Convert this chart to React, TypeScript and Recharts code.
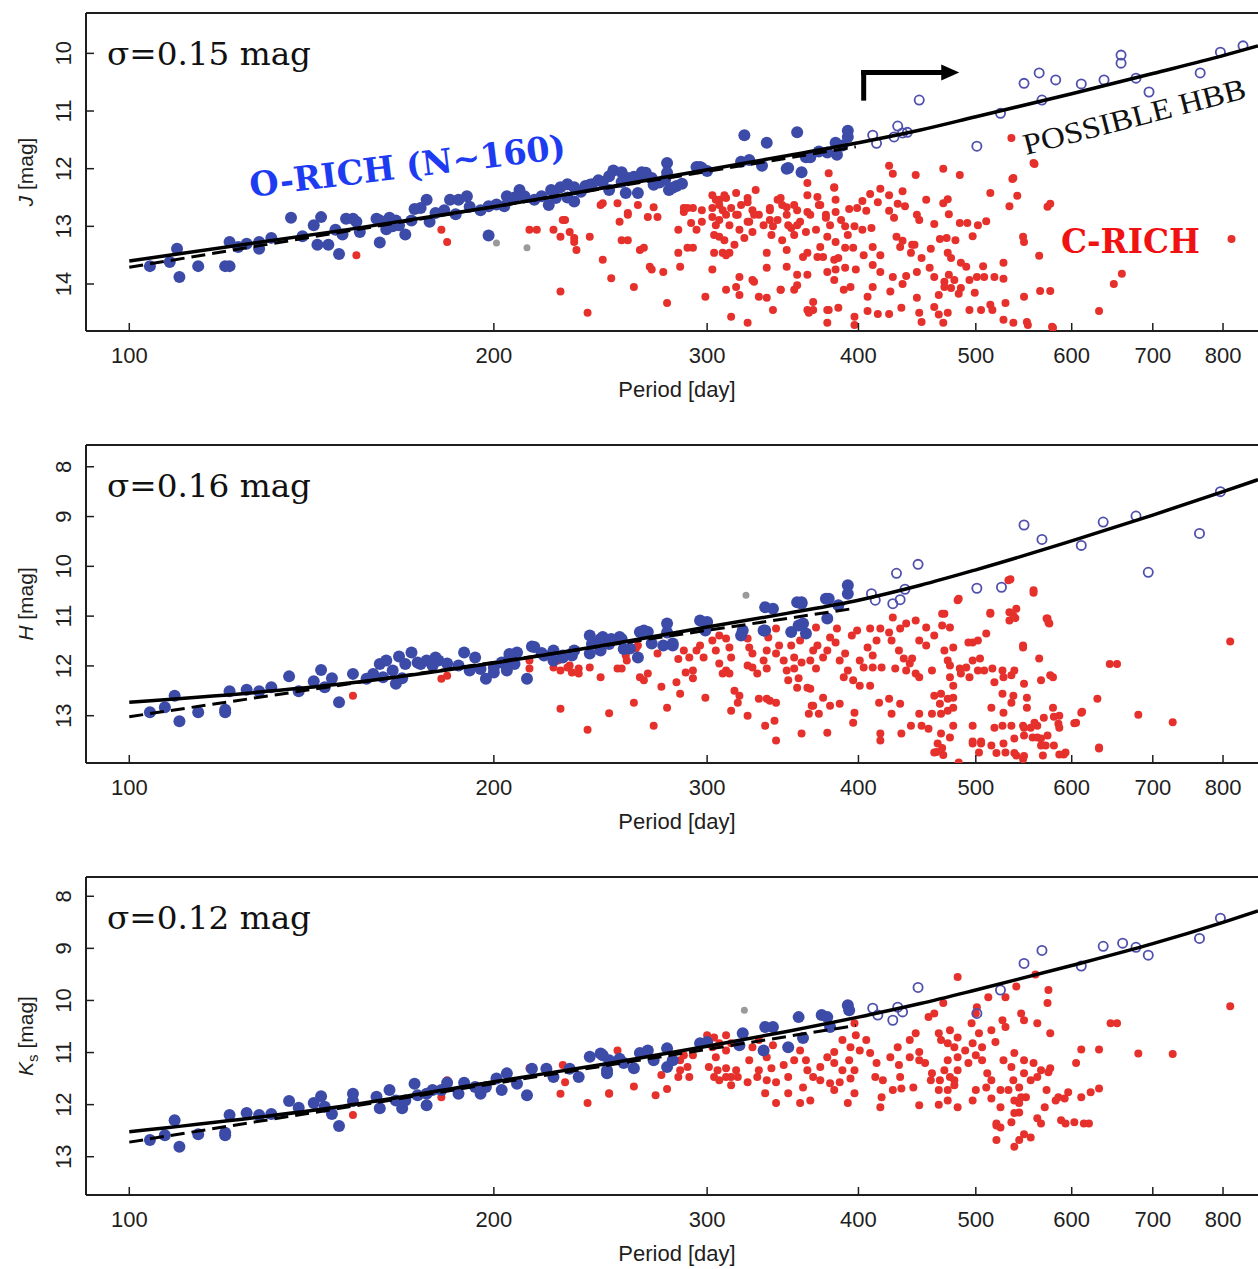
import React from 'react'
import { ScatterChart, Scatter, XAxis, YAxis, ReferenceLine, ReferenceDot } from 'recharts'

type Pt = [number, number]

// period axis (log), shared by the three panels
const periodTicks = [100, 200, 300, 400, 500, 600, 700, 800]
const periodDomain: [number, number] = [92.1, 855]

const jTicks = [10, 11, 12, 13, 14]
const hTicks = [8, 9, 10, 11, 12, 13]
const kTicks = [8, 9, 10, 11, 12, 13]
const jDomain: [number, number] = [9.3, 14.815]
const hDomain: [number, number] = [7.563, 13.95]
const kDomain: [number, number] = [7.63, 13.735]

// ---------- J panel ----------
const jFit: Pt[] = [[100,13.6],[150,13.07],[200,12.66],[250,12.31],[300,12.02],[350,11.77],[400,11.55],[450,11.33],[500,11.1],[600,10.7],[700,10.35],[800,10.04],[855,9.87]]
const jDash: Pt[] = [[100,13.71],[398,11.62]]
const jBlue: Pt[] = [[104,13.69],[108,13.62],[109.5,13.39],[110,13.88],[114,13.69],[120,13.69],[121,13.69],[121,13.27],[123,13.36],[125,13.3],[128,13.27],[128,13.39],[131,13.2],[136,12.85],[139,13.17],[142,12.98],[143,13.32],[144,12.84],[146,13.32],[148,13.06],[149,13.48],[150,13.14],[151,12.87],[153,12.87],[154,12.92],[155,13.1],[160,12.87],[161,12.9],[161,13.28],[163,13.05],[164,12.85],[165,13.0],[166,12.9],[167,12.98],[169,13.14],[171,12.9],[172,12.7],[174,12.68],[176,12.54],[177,12.92],[179,12.77],[182,12.72],[184,12.54],[186,12.79],[187,12.54],[190,12.48],[191,12.66],[195,12.72],[198,12.65],[198,13.16],[201,12.62],[204,12.65],[205,12.48],[206,12.54],[208,12.5],[210,12.37],[212,12.48],[216,12.54],[219,12.48],[222,12.63],[223,12.37],[224,12.4],[225,12.51],[227,12.32],[230,12.5],[230,12.27],[233,12.57],[233,12.32],[236,12.4],[238,12.3],[240,12.28],[241,12.27],[244,12.2],[246,12.23],[249,12.37],[249,12.13],[251,12.03],[255,12.23],[255,12.06],[257,12.42],[258,12.16],[261,12.14],[263,12.42],[264,12.14],[265,12.06],[267,12.07],[268,12.14],[270,12.16],[271,12.28],[274,12.24],[277,12.19],[278,11.9],[278,12.07],[279,12.37],[281,12.33],[283,12.3],[286,12.26],[294,11.97],[296,11.97],[297,11.99],[300,12.04],[320,11.88],[322,11.42],[325,11.85],[333,11.95],[336,11.55],[349,12.0],[350,11.99],[356,11.37],[359,12.06],[362,11.8],[365,11.8],[371,11.7],[377,11.72],[383,11.55],[384,11.76],[388,11.6],[392,11.45],[392,11.34]]
const jOpen: Pt[] = [[411,11.42],[414,11.56],[428,11.45],[431,11.26],[435,11.38],[439,11.37],[449,10.81],[501,11.61],[524,11.04],[548,10.52],[564,10.34],[567,10.81],[582,10.46],[611,10.53],[638,10.46],[659,10.03],[659,10.17],[678,10.43],[695,10.67],[766,10.34],[796,9.98],[831,9.87]]
const jGray: Pt[] = [[201,13.29],[213,13.37]]
const jRed: Pt[] = [[154,13.5],[181,13.06],[183,13.27],[214,13.06],[217,13.06],[224,13.06],[227,14.13],[229,12.89],[233,13.2],[234,13.41],[239,14.5],[240,13.18],[246,13.58],[246,12.6],[250,13.9],[253,12.6],[254,12.92],[258,12.77],[258,13.24],[261,14.05],[264,13.41],[268,12.84],[269,13.7],[271,12.67],[273,12.84],[278,14.33],[284,13.06],[284,13.46],[285,13.7],[287,12.68],[289,13.37],[292,12.68],[299,14.22],[303,13.75],[303,12.68],[307,12.54],[309,13.46],[311,14.1],[314,14.57],[319,13.88],[319,14.19],[324,14.67],[328,13.96],[329,12.37],[331,14.22],[336,13.46],[340,13.0],[343,12.54],[345,14.1],[349,13.7],[356,14.02],[363,12.25],[363,14.45],[367,14.31],[372,13.36],[377,14.67],[378,14.45],[382,13.58],
[305,12.54],[307,12.63],[311,12.51],[314,12.68],[318,12.8],[320,12.63],[324,12.51],[327,12.72],[307,12.89],[313,12.98],[319,13.06],[324,12.92],[304,13.15],[310,13.24],[316,13.32],[322,13.2],[327,13.1],[331,12.8],[334,12.98],[338,12.72],[339,13.15],[343,12.89],[346,12.63],[349,12.8],[352,13.03],[356,12.72],[358,12.92],[362,13.1],[365,12.8],[369,13.06],[372,12.63],[376,12.8],[379,12.98],[383,12.54],[387,12.89],[392,13.15],
[245,12.63],[258,12.8],[263,12.63],[228,12.89],[231,13.1],[227,13.18],[233,13.27],[255,13.24],[266,13.37],[270,13.75],[276,13.79],[287,12.75],[289,12.68],[297,12.72],[291,12.94],[294,13.06],[297,12.92],[292,13.37],[304,13.46],[303,12.46],[310,12.46],[309,12.72],[311,12.8],[303,12.84],[305,12.98],[307,13.18],[311,13.5],[313,13.46],[317,12.8],[317,12.42],[324,12.58],[325,12.92],[328,12.8],[317,14.05],[327,13.93],[336,14.24],[340,14.45],[338,12.68],[338,12.89],[345,12.51],[346,13.24],[349,12.67],[349,13.41],[354,12.63],[350,12.98],[356,12.98],[354,13.15],[336,13.72],[356,13.84],[354,14.1],[345,14.1],[370,12.49],[363,12.46],[371,12.63],[378,12.08],[363,12.75],[376,12.85],[383,12.75],[382,12.33],[363,13.46],[360,13.53],[377,13.18],[374,13.53],[370,13.53],[363,13.84],[377,13.79],[383,13.75],[382,13.93],[367,14.45],[377,14.45],[364,14.5],
[424,11.95],[427,12.09],[446,12.11],[470,12.0],[485,12.11],[382,12.32],[409,12.44],[417,12.35],[424,12.46],[435,12.39],[403,12.56],[415,12.58],[431,12.61],[437,12.65],[455,12.54],[470,12.6],[474,12.53],[393,12.7],[399,12.68],[406,12.73],[424,12.73],[428,12.85],[447,12.8],[449,12.89],[462,12.96],[475,12.79],[485,12.94],[492,12.94],[502,12.98],[510,12.91],[514,12.42],[537,12.16],[533,12.65],[541,12.47],[558,11.9],[573,12.66],[576,12.61],[390,13.0],[397,13.0],[403,13.06],[410,13.03],[430,13.18],[435,13.25],[443,13.32],[467,13.22],[473,13.2],[481,13.24],[497,13.17],[459,13.39],[547,13.18],[548,13.27],[383,13.27],[390,13.37],[396,13.37],[404,13.5],[411,13.36],[417,13.5],[433,13.36],[442,13.46],[445,13.32],[451,13.55],[474,13.46],[477,13.55],[486,13.63],[491,13.7],[507,13.69],[527,13.63],[564,13.51],[385,13.55],[390,13.72],[398,13.75],[411,13.67],[417,13.79],[427,13.88],[438,13.86],[447,13.79],[458,13.72],[462,13.88],[471,13.96],[475,13.84],[480,13.93],[486,14.07],[494,13.93],[501,13.88],[508,13.88],[518,13.88],[527,13.91],[565,14.12],[576,14.12],[389,14.1],[394,14.05],[407,14.22],[411,14.05],[425,14.13],[435,14.0],[447,14.24],[466,14.19],[471,14.05],[477,14.07],[484,14.17],[499,14.15],[514,14.36],[529,14.33],[548,14.22],[385,14.41],[397,14.57],[407,14.47],[415,14.52],[424,14.52],[434,14.41],[449,14.5],[462,14.4],[466,14.53],[474,14.5],[494,14.45],[505,14.45],[516,14.45],[527,14.62],[537,14.67],[551,14.66],[552,14.71],[578,14.74],[397,14.71],[451,14.66],[470,14.67],
[660,13.82],[650,14.0],[632,14.47],[813,13.22],[579,14.76],[559,11.92],[535,11.47],[536,12.18]]

// ---------- H panel ----------
const hFit: Pt[] = [[100,12.73],[150,12.36],[200,11.94],[250,11.56],[300,11.22],[350,10.94],[400,10.68],[450,10.38],[500,10.07],[600,9.49],[700,8.97],[800,8.5],[855,8.26]]
const hDash: Pt[] = [[100,13.02],[398,10.84]]
const hBlue: Pt[] = [[104,12.93],[107,12.83],[109,12.6],[110,13.11],[114,12.93],[120,12.88],[120,12.93],[121,12.51],[125,12.48],[128,12.51],[131,12.43],[135.5,12.21],[138,12.51],[142,12.31],[144,12.08],[145,12.43],[147,12.25],[149,12.73],[153,12.16],[159,12.16],[161,11.96],[163,11.89],[165,12.09],[168,12.25],[167,11.81],[171,11.73],[173,11.93],[176,11.89],[178,11.99],[180,11.89],[183,11.95],[189,11.73],[193,11.83],[197,12.26],[200,12.03],[203,11.93],[206,11.83],[209,11.73],[213,12.26],[215,11.61],[219,11.74],[224,11.69],[228,11.79],[233,11.69],[240,11.39],[245,11.46],[249,11.56],[254,11.42],[169,11.96],[174,11.96],[179,11.83],[187,11.99],[191,12.09],[195,12.06],[200,12.13],[205,12.03],[208,11.96],[162,12.23],[166,12.36],[157,12.26],[206,11.76],[205,12.09],[216,11.62],[220,11.79],[224,11.89],[228,11.83],[232,11.79],[241,11.56],[246,11.42],[250,11.46],[255,11.46],[245,11.69],[240,11.75],[256,11.66],[263,11.83],[264,11.32],[268,11.32],[278,11.15],[278,11.33],[276,11.59],[281,11.59],[296,11.09],[300,11.12],[320,11.39],[334,11.29],[335,10.82],[340,10.85],[352,11.32],[356,10.72],[359,10.72],[360,11.15],[362,11.35],[392,10.38],[392,10.55],[385,10.78],[377,11.05],[378,10.65],[376,10.65],[359,10.75],[357,11.19],[335,11.29],[321,11.29],[299,11.29],[266,11.29],[281,11.55],[270,11.55],[259,11.65]]
const hOpen: Pt[] = [[413,10.68],[410,10.55],[427,10.75],[433,10.67],[437,10.46],[430,10.14],[448,9.96],[501,10.44],[525,10.42],[548,9.17],[567,9.46],[611,9.58],[637,9.11],[678,8.99],[694,10.12],[765,9.34],[796,8.5]]
const hGray: Pt[] = [[323,10.58]]
const hRed: Pt[] = [[153,12.6],[181,12.26],[183,12.2],[227,12.86],[239,13.28],[249,12.95],[245,12.23],[226,11.89],[231,11.99],[235,12.05],[214,11.89],
[214,12.05],[224,12.03],[227,12.09],[230,12.03],[232,12.13],[235,12.15],[240,12.03],[253,12.05],[255,12.05],[257,11.79],[257.5,11.89],[262,11.65],[263,11.59],[264,12.23],[261,12.74],[266,12.29],[268,12.15],[271,13.2],[273,11.75],[275,12.42],[278,12.84],[284,11.86],[283,12.33],[285,12.56],[287,11.69],[290,11.83],[292,12.09],[288,12.13],[292,12.25],[294,11.69],[296,11.59],[298,11.83],[299,12.64],[303,11.49],[305,11.69],[307,11.39],[307,11.95],[311,11.45],[313,11.63],[314,11.83],[311,12.09],[309,12.15],[313,12.15],[316,12.5],[314,12.9],[319,12.6],[318,12.74],[324,13.0],[324,11.45],[325,11.63],[327,11.75],[327,12.03],[324,11.99],[330,12.15],[334,11.89],[336,11.69],[336,12.05],[331,12.66],[336,12.66],[338,12.7],[342,12.74],[335,13.2],[341,13.1],[337,11.43],[342,11.25],[344,11.59],[342,11.75],[347,11.89],[349,12.09],[342,13.5],[350,12.29],[352,11.59],[354,11.83],[354,12.05],[358,11.49],[359,11.93],[357,12.25],[356,12.44],[363,12.44],[364,12.96],[359,13.36],[365,11.89],[367,11.69],[369,12.05],[366,12.8],
[369,11.23],[370,11.59],[374,11.83],[379,11.43],[384,11.25],[383,11.53],[377,11.69],[390,11.75],[386,11.89],[395,11.39],[399,11.29],[392,12.09],[389,12.23],[396,12.29],[401,11.89],[409,11.25],[417,11.25],[424,11.33],[427,11.03],[433,11.25],[438,11.15],[446,11.09],[455,11.23],[462,11.39],[449,11.49],[455,11.59],[426,11.49],[414,11.49],[407,11.63],[404,12.03],[411,12.03],[418,12.03],[411,11.79],[432,11.69],[436,11.85],[441,11.95],[429,12.05],[438,12.09],[446,12.15],[449,12.23],[443,11.85],[460,12.09],[471,11.69],[474,11.89],[479,11.63],[476,11.99],[485,12.05],[491,12.03],[486,12.15],[476,12.23],[479,12.4],[494,12.23],[502,12.09],[497,11.89],[504,11.85],[497,11.53],[502,11.49],[471,10.95],[469,11.19],[476,11.23],[483,10.68],[514,10.95],[510,11.35],[508,12.09],[516,12.05],[526,12.09],[527,12.23],[535,12.19],[538,12.09],[518,12.33],[526,12.56],[537,12.6],[533,11.09],[537,10.99],[540,10.85],[534,10.26],[558,10.48],[547,11.59],[548,12.36],[564,11.85],[573,11.05],[575,11.15],[576,12.19],[566,12.29],[630,12.66],[632,13.64],[603,13.15],[611,12.94],[586,13.0],[579,12.84],[585,13.16],[569,13.04],[562,13.2],[555,13.24],[548,13.24],[535,13.2],[526,13.2],[518,13.24],[573,13.4],[580,13.6],[566,13.46],[557,13.44],[548,13.4],[538,13.46],[527,13.56],[515,13.6],[505,13.56],[497,13.56],[497,13.2],[479,13.2],[476,13.44],[468,13.36],[464,13.73],[470,13.79],[465,13.56],[457,13.26],[460,12.96],[467,12.76],[462,12.6],[468,12.56],[474,12.66],[479,12.84],[479,12.64],[474,12.9],[468,12.96],[449,12.96],[451,13.2],[442,13.2],[434,13.36],[426,12.96],[417,13.36],[417,13.5],[433,12.76],[424,12.66],[416,12.74],[409,12.4],[401,12.4],[397,12.94],[396,13.14],[386,12.76],[379,12.8],[374,12.64],[377,13.34],[371,12.96],[367,12.8],[365,12.46],[515,12.84],[527,12.94],[547,13.2],[535,12.74],[551,12.84],[551,12.64],[580,13.02],[586,13.24],[562,13.44],[538,13.75],[548,13.81],[520,13.75],
[654,11.96],[645,11.96],[681,12.98],[727,13.13],[811,11.51],[632,13.66],[612,12.92],[605,13.14],[591,13.78],[586,13.78],[571,13.6],[559,13.14],[558,10.53],[574,11.13],[572,11.05],[547,11.63],[539,11.04],[533,10.92],[532,10.28],[514,10.93],[484,10.65],[469,10.95],[493,11.53],[579,12.23],
[462,13.74],[469,13.65],[484,13.94],[497,13.52],[503,13.74],[505,13.52],[529,13.74],[540,13.8],[547,13.87],[566,13.6],[593,13.74],[568,13.8]]

// ---------- Ks panel ----------
const kFit: Pt[] = [[100,12.52],[150,12.03],[200,11.56],[250,11.2],[300,10.88],[350,10.59],[400,10.32],[450,10.06],[500,9.8],[600,9.33],[700,8.91],[800,8.5],[855,8.28]]
const kDash: Pt[] = [[100,12.72],[398,10.48]]
const kBlue: Pt[] = [[104,12.68],[107,12.59],[109,12.3],[110,12.81],[114,12.57],[120,12.54],[120,12.59],[121,12.2],[125,12.16],[128,12.2],[131,12.18],[135.5,11.93],[138,12.06],[142,11.97],[144,11.84],[145,12.04],[147,12.18],[149,12.41],[153,11.93],[153,11.79],[160,11.85],[161,12.07],[164,11.72],[166,11.92],[168,12.07],[169,11.92],[172,11.6],[173,11.82],[176,12.01],[178,11.72],[181,11.72],[183,11.58],[189,11.58],[193,11.66],[197,11.66],[201,11.5],[205,11.4],[209,11.6],[213,11.82],[215,11.31],[221,11.31],[224,11.47],[231,11.31],[235,11.47],[240,11.08],[245,11.02],[249,11.15],[248,11.4],[254,11.12],[195,11.79],[203,11.72],[187,11.79],[176,11.79],[246,11.05],[248,11.34],[256,11.2],[261,11.3],[264,11.01],[268,10.96],[271,11.15],[278,10.92],[278,11.28],[281,11.15],[296,10.82],[300,10.8],[319,10.86],[321,10.63],[334,10.96],[335,10.51],[340,10.51],[350,10.9],[357,10.32],[360,10.72],[373,10.28],[377,10.32],[379,10.51],[392,10.09],[393,10.19]]
const kOpen: Pt[] = [[411,10.15],[415,10.28],[427,10.38],[431,10.13],[435,10.22],[448,9.75],[501,10.25],[524,9.8],[548,9.29],[567,9.04],[611,9.34],[637,8.96],[661,8.9],[678,8.98],[694,9.13],[765,8.81],[796,8.42]]
const kGray: Pt[] = [[322,10.19]]
const kRed: Pt[] = [[153,12.2],[181,11.86],[183,11.53],[227,11.79],[239,11.97],[249,11.79],[228,11.24],[229,11.57],[214,11.3],[253,10.96],
[249,11.78],[261,11.65],[272,11.82],[278,11.7],[275,11.43],[285,11.34],[289,11.28],[284,11.47],[290,11.47],[285,11.15],[287,11.05],[292,11.05],[300,10.67],[304,10.71],[303,10.9],[307,10.82],[311,10.67],[311,10.96],[314,10.82],[305,11.09],[301,11.28],[306,11.34],[304,11.47],[311,11.3],[317,11.34],[314,11.47],[307,11.53],[311,11.47],[318,11.47],[314,11.63],[324,11.57],[330,11.47],[325,11.15],[327,10.9],[331,10.76],[336,11.09],[340,10.86],[349,10.9],[347,11.24],[339,11.3],[331,11.34],[336,11.53],[342,11.57],[335,11.78],[342,11.97],[350,11.47],[354,11.15],[358,10.96],[362,11.15],[363,11.34],[367,11.47],[360,11.67],[372,11.28],[377,11.09],[382,10.99],[382,11.2],[388,10.76],[388,11.34],[393,11.15],[372,11.53],[379,11.59],[386,11.57],[394,11.5],[397,11.34],[398,10.67],[394,10.9],[397,10.44],[401,10.96],[406,10.76],[409,11.01],[414,11.2],[413,11.47],[418,11.86],[419,11.53],[425,11.09],[432,11.24],[433,11.47],[434,11.69],[431,10.9],[441,10.76],[446,10.63],[441,11.09],[449,10.99],[449,11.15],[444,11.67],[454,11.2],[457,10.32],[462,10.25],[470,10.05],[460,11.4],[459,11.53],[467,11.53],[474,11.15],[468,10.76],[466,10.63],[476,10.57],[474,10.82],[480,10.9],[483,10.71],[483,11.09],[490,10.96],[493,11.2],[483,11.34],[480,11.53],[474,11.72],[466,11.72],[471,11.34],[476,11.47],[480,11.63],[496,10.44],[500,10.25],[501,10.13],[503,10.63],[497,10.82],[506,10.9],[500,11.05],[506,11.15],[515,10.57],[519,10.8],[512,9.94],[526,10.38],[529,10.51],[511,11.4],[515,11.53],[527,11.15],[535,11.28],[538,11.01],[537,11.53],[524,11.72],[510,11.67],[515,11.88],[543,11.67],[548,11.4],[548,11.15],[555,11.53],[550,11.86],[532,11.72],[538,11.92],[543,12.15],[524,12.05],[497,11.92],[500,11.72],[558,11.2],[566,11.34],[562,10.44],[573,10.05],[574,9.8],[576,10.63],
[358,11.97],[350,11.78],[417,12.05],[427,11.72],[365,11.92],[382,11.72],[397,11.78],[392,11.97],[449,12.01],[466,12.0],[483,12.05],[474,11.92],
[654,10.44],[646,10.44],[681,11.02],[727,11.03],[811,10.11],[632,11.69],[614,12.36],[632,10.94],[611,10.94],[593,12.36],[592,11.88],[582,11.92],[566,12.36],[548,12.57],[538,12.16],[520,12.4],[570,12.05],[572,11.72],[574,11.38],[576,11.3],[562,11.47],[605,11.2],[560,9.5],[540,9.73],[529,9.94],[483,9.55],[545,10.25],[548,10.38],
[520,12.36],[543,11.97],[545,11.86],[524,12.44],[535,12.34],[555,12.63],[543,12.68],[520,12.68],[538,12.81],[562,12.26],[585,11.86],[596,11.76],[611,11.86],[622,11.76],[588,12.3],[603,12.34],[620,12.36]]

const rows = (pts: Pt[]) => pts.map(([p, m]) => ({ p, m }))

const SANS = "'Liberation Sans', Arial, Helvetica, sans-serif"
const INK = '#1e1e1e'

const blueDot = (props: any) => <circle cx={props.cx} cy={props.cy} r={6} fill="#3c4ba8" />
const openDot = (props: any) => <circle cx={props.cx} cy={props.cy} r={4.6} fill="none" stroke="#5050ad" strokeWidth={1.8} />
const redDot = (props: any) => <circle cx={props.cx} cy={props.cy} r={4} fill="#e5302b" />
const grayDot = (props: any) => <circle cx={props.cx} cy={props.cy} r={3.5} fill="#9a9a9a" />
const noDot = () => <g />
const arrowHead = (props: any) => (
  <polygon points={`${props.cx - 2},${props.cy - 8} ${props.cx + 16},${props.cy} ${props.cx - 2},${props.cy + 8}`} fill="#000" />
)

const XTick = (props: any) => {
  const { x, y, payload } = props
  return (
    <g>
      <line x1={x} y1={y} x2={x} y2={y - 8} stroke={INK} strokeWidth={1.5} />
      <text x={x} y={y + 32} textAnchor="middle" fontFamily={SANS} fontSize={22} fill={INK}>{payload.value}</text>
    </g>
  )
}

const YTick = (props: any) => {
  const { x, y, payload } = props
  return (
    <g>
      <line x1={x} y1={y} x2={x + 8} y2={y} stroke={INK} strokeWidth={1.5} />
      <text transform={`translate(${x - 15},${y}) rotate(-90)`} textAnchor="middle" fontFamily={SANS} fontSize={22} fill={INK}>{payload.value}</text>
    </g>
  )
}

interface PanelProps {
  top: number
  yDomain: [number, number]
  yTicks: number[]
  blue: Pt[]
  open: Pt[]
  red: Pt[]
  gray: Pt[]
  fit: Pt[]
  dash: Pt[]
  arrow?: boolean
}

function Panel({ top, yDomain, yTicks, blue, open, red, gray, fit, dash, arrow }: PanelProps) {
  return (
    <div style={{ position: 'absolute', left: 0, top, width: 1258, height: 432 }}>
      <ScatterChart width={1258} height={432} margin={{ top: 13, right: 0, bottom: 0, left: 0 }}>
        <XAxis type="number" dataKey="p" scale="log" domain={periodDomain} allowDataOverflow ticks={periodTicks} interval={0}
          tick={XTick} tickLine={false} tickSize={0} tickMargin={0} height={101} axisLine={{ stroke: INK, strokeWidth: 2 }} />
        <YAxis type="number" dataKey="m" domain={yDomain} reversed allowDataOverflow ticks={yTicks} interval={0}
          tick={YTick} tickLine={false} tickSize={0} tickMargin={0} width={86} axisLine={{ stroke: INK, strokeWidth: 2 }} />
        <ReferenceLine y={yDomain[0]} stroke={INK} strokeWidth={2} ifOverflow="visible" />
        <Scatter data={rows(red)} shape={redDot} isAnimationActive={false} />
        <Scatter data={rows(blue)} shape={blueDot} isAnimationActive={false} />
        <Scatter data={rows(open)} shape={openDot} isAnimationActive={false} />
        <Scatter data={rows(gray)} shape={grayDot} isAnimationActive={false} />
        <Scatter data={rows(dash)} shape={noDot} line={{ stroke: '#000', strokeWidth: 3, strokeDasharray: '14 7' }} isAnimationActive={false} />
        <Scatter data={rows(fit)} shape={noDot} line={{ stroke: '#000', strokeWidth: 3.5 }} lineJointType="monotoneX" isAnimationActive={false} />
        {arrow && <ReferenceLine segment={[{ x: 404, y: 10.82 }, { x: 404, y: 10.29 }]} stroke="#000" strokeWidth={5} />}
        {arrow && <ReferenceLine segment={[{ x: 402, y: 10.33 }, { x: 470, y: 10.33 }]} stroke="#000" strokeWidth={5} />}
        {arrow && <ReferenceDot x={470} y={10.33} r={1} shape={arrowHead} />}
      </ScatterChart>
    </div>
  )
}

const panelTops = [0, 432, 864]
const sigmaLabels = ['σ=0.15 mag', 'σ=0.16 mag', 'σ=0.12 mag']

function Overlay() {
  return (
    <svg width={1258} height={1269} style={{ position: 'absolute', left: 0, top: 0, pointerEvents: 'none' }}>
      {panelTops.map((t, i) => (
        <g key={i}>
          <text x={107} y={t + 65} fontFamily="'DejaVu Serif', serif" fontSize={32} fill="#111" textLength={204} lengthAdjust="spacingAndGlyphs">{sigmaLabels[i]}</text>
          <text x={677} y={t + 397} textAnchor="middle" fontFamily={SANS} fontSize={22} fill={INK}>Period [day]</text>
        </g>
      ))}
      <text transform="translate(33,172) rotate(-90)" textAnchor="middle" fontFamily={SANS} fontSize={21} fill={INK}>
        <tspan fontStyle="italic">J</tspan> [mag]
      </text>
      <text transform="translate(33,604) rotate(-90)" textAnchor="middle" fontFamily={SANS} fontSize={21} fill={INK}>
        <tspan fontStyle="italic">H</tspan> [mag]
      </text>
      <text transform="translate(33,1036) rotate(-90)" textAnchor="middle" fontFamily={SANS} fontSize={21} fill={INK}>
        <tspan fontStyle="italic">K</tspan><tspan fontSize={15} dy={5}>s</tspan><tspan dy={-5}> [mag]</tspan>
      </text>
      <text transform="translate(251,197) rotate(-7)" fontFamily="'DejaVu Serif', serif" fontWeight="bold" fontSize={34} fill="#1d3cf2" textLength={318} lengthAdjust="spacingAndGlyphs">O-RICH (N~160)</text>
      <text x={1061} y={253} fontFamily="'DejaVu Serif', serif" fontWeight="bold" fontSize={33} fill="#f01212" textLength={139} lengthAdjust="spacingAndGlyphs">C-RICH</text>
      <text transform="translate(1026,155) rotate(-14.5)" fontFamily="'Liberation Serif', 'Times New Roman', serif" fontSize={30} fill="#111" textLength={229} lengthAdjust="spacingAndGlyphs">POSSIBLE HBB</text>
    </svg>
  )
}

export default function App() {
  return (
    <div style={{ position: 'absolute', left: 0, top: 0, width: 1258, height: 1269, background: '#fff', overflow: 'hidden' }}>
      <Panel top={panelTops[0]} yDomain={jDomain} yTicks={jTicks} blue={jBlue} open={jOpen} red={jRed} gray={jGray} fit={jFit} dash={jDash} arrow />
      <Panel top={panelTops[1]} yDomain={hDomain} yTicks={hTicks} blue={hBlue} open={hOpen} red={hRed} gray={hGray} fit={hFit} dash={hDash} />
      <Panel top={panelTops[2]} yDomain={kDomain} yTicks={kTicks} blue={kBlue} open={kOpen} red={kRed} gray={kGray} fit={kFit} dash={kDash} />
      <Overlay />
    </div>
  )
}
